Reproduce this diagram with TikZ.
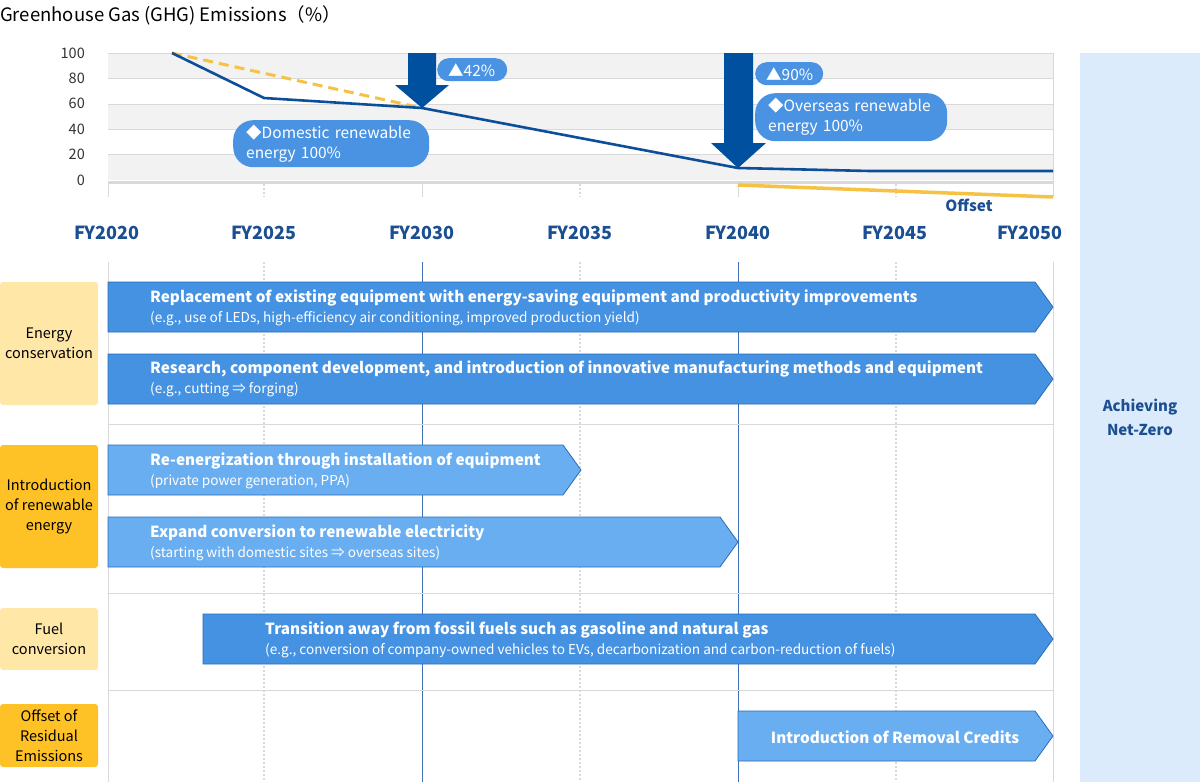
\documentclass[tikz,border=0pt]{standalone}
\usepackage{fontspec}
\setmainfont{Noto Sans CJK JP}
\usetikzlibrary{positioning}
\definecolor{navy}{HTML}{0050A0}
\definecolor{linebl}{HTML}{0D4E9B}
\definecolor{txtbl}{HTML}{1B4F91}
\definecolor{pillbl}{HTML}{4A93E3}
\definecolor{bandk}{HTML}{4592E3}
\definecolor{banlt}{HTML}{6AAEF2}
\definecolor{banbd}{HTML}{2B6CB5}
\definecolor{paleyel}{HTML}{FFE7A8}
\definecolor{gold}{HTML}{FFC226}
\definecolor{dashyel}{HTML}{F6C244}
\definecolor{panel}{HTML}{DCEBFB}
\definecolor{gridgr}{HTML}{D9D9D9}
\definecolor{bandgr}{HTML}{F2F2F2}
\definecolor{gridbl}{HTML}{3F6FB5}
\begin{document}
\begin{tikzpicture}[x=1pt,y=-1pt,
  ylab/.style={anchor=east,inner sep=0,font=\fontsize{14.5}{16}\selectfont,text=black!80},
  year/.style={inner sep=0,font=\bfseries\fontsize{18}{20}\selectfont,text=txtbl},
  pill/.style={fill=pillbl,text=white,inner sep=0,anchor=north west,align=left,font=\fontsize{15.5}{20}\selectfont},
  grp/.style={rounded corners=3pt,minimum width=98pt,inner sep=0,align=center,font=\fontsize{14.5}{20}\selectfont},
  bandark/.style={fill=bandk,draw=banbd,line width=0.8pt},
  banlight/.style={fill=banlt,draw=banbd,line width=0.8pt},
  btitle/.style={anchor=west,inner sep=0,text=white,font=\bfseries\fontsize{15.3}{18}\selectfont},
  bsub/.style={inner sep=0,text=white,font=\fontsize{13.6}{15}\selectfont},
  vsolid/.style={draw=gridgr,line width=1pt},
  vdot/.style={draw=gridgr,line width=1.6pt,dash pattern=on 1.6pt off 2.4pt},
  vblue/.style={draw=gridbl,line width=0.9pt}]
\useasboundingbox (0,0) rectangle (1200,782);
%%
\newcommand{\chev}[5]{\draw[#1] (#2,#3) -- (#4-18,#3) -- (#4,#3+25) -- (#4-18,#3+50) -- (#2,#3+50) -- cycle;}
%%
% title
\node[anchor=west,inner sep=0,font=\fontsize{18.5}{20}\selectfont] (title) at (0,15) {Greenhouse Gas (GHG) Emissions（\%）};
%
% chart area
\foreach \i in {0,2,4}
  \fill[bandgr] (108,53+25.4*\i) rectangle (1053,78.4+25.4*\i);
\foreach \i in {0,...,4}
  \draw[gridgr] (108,53+25.4*\i) -- (1053,53+25.4*\i);
\draw[gridgr] (1053,53) -- (1053,197);
\foreach \v [count=\i from 0] in {100,80,60,40,20,0}
  \node[ylab] (y\v) at (85,53+25.4*\i) {\v};
\draw[vsolid] (108,182) -- (108,197);
\draw[vsolid] (422,182) -- (422,197);
\draw[vsolid] (738,182) -- (738,197);
\foreach \x in {264,580,896} \draw[vdot] (\x,184) -- (\x,197);
\draw[gridgr,line width=3pt] (108,182) -- (1053,182);
%
% emission lines
\draw[dashyel,line width=3pt,dash pattern=on 10pt off 6pt] (172,53) -- (422,108);
\draw[linebl,line width=2.6pt,line join=round] (172,53) -- (264,98) -- (422,108) -- (738,168) -- (870,171) -- (1053,171);
\draw[dashyel,line width=3.5pt] (738,185) -- (1053,197);
%
% reduction arrows
\fill[navy] (408,53) -- (436,53) -- (436,85) -- (449,85) -- (422,108) -- (395,85) -- (408,85) -- cycle;
\fill[navy] (724,53) -- (753,53) -- (753,143) -- (766,143) -- (738,168) -- (711,143) -- (724,143) -- cycle;
%
% callouts
\node[pill,rounded corners=11.5pt,minimum width=70pt,minimum height=23pt,text width=48pt] (p42) at (437,58) {▲42\%};
\node[pill,rounded corners=11.5pt,minimum width=68pt,minimum height=23pt,text width=46pt] (p90) at (755,62) {▲90\%};
\node[pill,rounded corners=20pt,minimum width=196pt,minimum height=47pt,text width=170pt] (pdom) at (233,120) {◆Domestic renewable\\energy 100\%};
\node[pill,rounded corners=20pt,minimum width=192pt,minimum height=48pt,text width=166pt] (povs) at (755,93) {◆Overseas renewable\\energy 100\%};
\node[inner sep=0,text=txtbl,font=\bfseries\fontsize{15.3}{16}\selectfont] (offs) at (969,205) {Offset};
%
% years
\foreach \x/\y in {107/2020,264/2025,422/2030,580/2035,738/2040,895/2045,1030/2050}
  \node[year] (fy\y) at (\x,233) {FY\y};
%
% timeline grid
\draw[vsolid] (108,262) -- (108,782);
\draw[vsolid] (1053,262) -- (1053,782);
\foreach \x in {264,580,896} \draw[vdot] (\x,262) -- (\x,782);
\draw[vblue] (422,262) -- (422,782);
\draw[vblue] (738,262) -- (738,782);
\foreach \y in {424,593,690} \draw[gridgr] (108,\y) -- (1053,\y);
%
% categories
\node[grp,fill=paleyel,minimum height=123pt] (econ) at (49,343.5) {Energy\\conservation};
\node[grp,fill=gold,minimum height=123pt] (renew) at (49,506.5) {Introduction\\of renewable\\energy};
\node[grp,fill=paleyel,minimum height=62pt] (fuel) at (49,639) {Fuel\\conversion};
\node[grp,fill=gold,minimum height=63pt] (offset) at (49,735.5) {Offset of\\Residual\\Emissions};
%
% measures
\chev{bandark}{108}{282}{1053}{}
\node[btitle] (repl) at (150,298) {Replacement of existing equipment with energy-saving equipment and productivity improvements};
\node[bsub,below=5pt of repl.south west,anchor=north west] (repls) {(e.g., use of LEDs, high-efficiency air conditioning, improved production yield)};
\chev{bandark}{108}{354}{1053}{}
\node[btitle] (res) at (150,369) {Research, component development, and introduction of innovative manufacturing methods and equipment};
\node[bsub,below=5pt of res.south west,anchor=north west] (ress) {(e.g., cutting ⇒ forging)};
\chev{banlight}{108}{445}{581}{}
\node[btitle] (reen) at (150,461) {Re-energization through installation of equipment};
\node[bsub,below=5pt of reen.south west,anchor=north west] (reens) {(private power generation, PPA)};
\chev{banlight}{108}{517}{738}{}
\node[btitle] (expd) at (150,533) {Expand conversion to renewable electricity};
\node[bsub,below=5pt of expd.south west,anchor=north west] (expds) {(starting with domestic sites ⇒ overseas sites)};
\chev{bandark}{203}{614}{1053}{}
\node[btitle] (trans) at (265,630) {Transition away from fossil fuels such as gasoline and natural gas};
\node[bsub,below=5pt of trans.south west,anchor=north west] (transs) {(e.g., conversion of company-owned vehicles to EVs, decarbonization and carbon-reduction of fuels)};
\chev{banlight}{738}{711}{1053}{}
\node[btitle,anchor=center] (remov) at (895,737) {Introduction of Removal Credits};
%
% goal
\fill[panel] (1080,53) rectangle (1200,782);
\node[align=center,inner sep=0,text=txtbl,font=\bfseries\fontsize{15}{24}\selectfont] (goal) at (1140,417) {Achieving\\Net-Zero};
\end{tikzpicture}
\end{document}
